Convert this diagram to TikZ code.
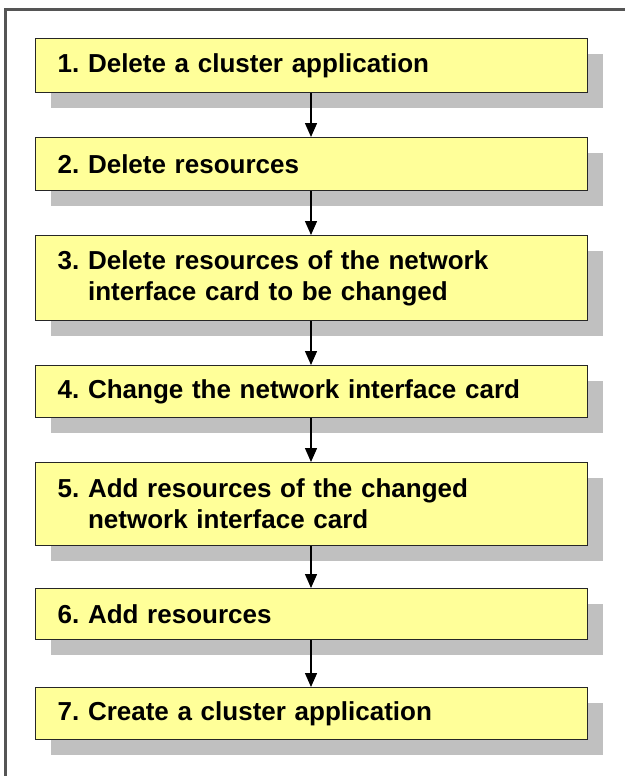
\documentclass[tikz,border=0pt]{standalone}
\usepackage{fontspec}
\setmainfont{Liberation Sans}
\usetikzlibrary{arrows.meta,shadows}
\definecolor{boxyellow}{RGB}{255,255,153}
\definecolor{shadowgray}{RGB}{192,192,192}
\definecolor{framegray}{RGB}{85,85,85}
\frenchspacing
\begin{document}
\begin{tikzpicture}[x=1pt,y=-1pt,
  stepbox/.style={draw=black!85, line width=1.4pt, fill=boxyellow,
    drop shadow={shadow xshift=15pt, shadow yshift=-15pt, fill=shadowgray, opacity=1, draw=none},
    anchor=north west, minimum width=552pt, text width=508pt, inner xsep=22pt, inner ysep=0pt,
    align=left, font=\fontsize{26}{31}\selectfont\bfseries\frenchspacing},
  flow/.style={line width=1.4pt, -{Triangle[width=12pt,length=14pt]}}]
\useasboundingbox (0,0) rectangle (624,776);
\fill[white] (0,0) rectangle (624,776);
\draw[framegray, line width=2.5pt] (5.5,790) -- (5.5,9.5) -- (640,9.5);
\node[stepbox, minimum height=54pt] (b1) at (35,38) {1. Delete a cluster application};
\node[stepbox, minimum height=53pt] (b2) at (35,137) {2. Delete resources};
\node[stepbox, minimum height=85pt] (b3) at (35,235) {3. Delete resources of the network\\\hphantom{3.\ }interface card to be changed};
\node[stepbox, minimum height=52pt] (b4) at (35,365) {4. Change the network interface card};
\node[stepbox, minimum height=83pt] (b5) at (35,462) {5. Add resources of the changed\\\hphantom{5.\ }network interface card};
\node[stepbox, minimum height=51pt] (b6) at (35,588) {6. Add resources};
\node[stepbox, minimum height=52pt] (b7) at (35,687) {7. Create a cluster application};
\foreach \a/\b in {b1/b2,b2/b3,b3/b4,b4/b5,b5/b6,b6/b7}{
  \draw[flow] (\a.south -| 311,0) -- (\b.north -| 311,0);
}
\end{tikzpicture}
\end{document}
